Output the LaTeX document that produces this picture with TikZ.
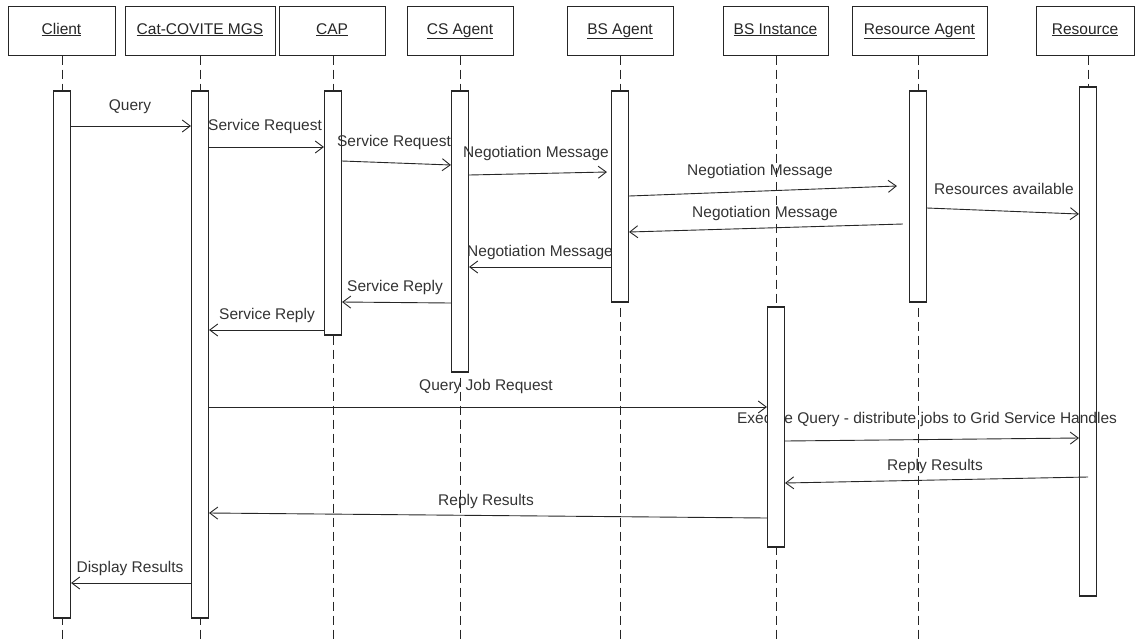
\documentclass[tikz,border=0pt]{standalone}
\usepackage{fontspec}
\setmainfont{Liberation Sans}
\usetikzlibrary{arrows.meta}
\begin{document}
\begin{tikzpicture}[x=1pt,y=-1pt,
  font=\fontsize{15.5}{18}\selectfont,
  hdr/.style={draw=black!85, line width=1pt, fill=white, rectangle, minimum height=49pt, inner sep=0pt, text=black!85, text height=11pt, text depth=4pt},
  bar/.style={draw=black!85, line width=1.1pt, fill=white, rectangle, minimum width=17pt, inner sep=0pt},
  life/.style={draw=black!85, line width=1pt, dash pattern=on 9pt off 5pt},
  msg/.style={draw=black!85, line width=0.9pt, -{Straight Barb[length=8pt,width=12pt,line width=0.9pt]}},
  lbl/.style={text=black!80, inner sep=0pt, text height=11pt, text depth=3pt}]
\useasboundingbox (0,0) rectangle (1136,641);
% header boxes
\node[hdr, minimum width=107pt] (hClient) at (61.5,30.5) {\underline{Client}};
\node[hdr, minimum width=150pt] (hCat) at (200,30.5) {\underline{Cat-COVITE MGS}};
\node[hdr, minimum width=106pt] (hCAP) at (332,30.5) {\underline{CAP}};
\node[hdr, minimum width=106pt] (hCS) at (460,30.5) {\underline{CS Agent}};
\node[hdr, minimum width=106pt] (hBSA) at (620,30.5) {\underline{BS Agent}};
\node[hdr, minimum width=105pt] (hBSI) at (775.5,30.5) {\underline{BS Instance}};
\node[hdr, minimum width=135pt] (hRA) at (919.5,30.5) {\underline{Resource Agent}};
\node[hdr, minimum width=98pt] (hRes) at (1085,30.5) {\underline{Resource}};
% lifeline ends
\coordinate (eClient) at (62,641);
\coordinate (eCat) at (200,641);
\coordinate (eCAP) at (333,641);
\coordinate (eCS) at (460,641);
\coordinate (eBSA) at (620,641);
\coordinate (eBSI) at (776,641);
\coordinate (eRA) at (918,641);
\coordinate (eRes) at (1088,596);
\draw[life] (hClient.south -| eClient) -- (eClient);
\draw[life] (hCat.south -| eCat) -- (eCat);
\draw[life] (hCAP.south -| eCAP) -- (eCAP);
\draw[life] (hCS.south -| eCS) -- (eCS);
\draw[life] (hBSA.south -| eBSA) -- (eBSA);
\draw[life] (hBSI.south -| eBSI) -- (eBSI);
\draw[life] (hRA.south -| eRA) -- (eRA);
\draw[life] (hRes.south -| eRes) -- (eRes);
% activation bars
\node[bar, minimum height=527pt] (bClient) at (62,354.5) {};
\node[bar, minimum height=527pt] (bCat) at (200,354.5) {};
\node[bar, minimum height=244pt] (bCAP) at (333,213) {};
\node[bar, minimum height=281pt] (bCS) at (460,231.5) {};
\node[bar, minimum height=211pt] (bBSA) at (620,196.5) {};
\node[bar, minimum height=211pt] (bRA) at (918,196.5) {};
\node[bar, minimum height=509pt] (bRes) at (1088,341.5) {};
% label partly hidden by the BS Instance bar
\node[lbl] (l12) at (927,419) {Execute Query - distribute jobs to Grid Service Handles};
\node[bar, minimum height=240pt] (bBSI) at (776,427) {};
% messages
\draw[msg] (bClient.east |- 0,126) -- (bCat.west |- 0,126);
\node[lbl] at (130,106) {Query};
\draw[msg] (bCat.east |- 0,147) -- (bCAP.west |- 0,147);
\node[lbl, anchor=west] at (208,126) {Service Request};
\draw[msg] (bCAP.east |- 0,161) -- (bCS.west |- 0,165);
\node[lbl] at (394,142) {Service Request};
\draw[msg] (bCS.east |- 0,175) -- ([xshift=-4pt]bBSA.west |- 0,172);
\node[lbl] at (536,153) {Negotiation Message};
\draw[msg] (bBSA.east |- 0,196) -- ([xshift=-12pt]bRA.west |- 0,186);
\node[lbl] at (760,171) {Negotiation Message};
\draw[msg] (bRA.east |- 0,208) -- (bRes.west |- 0,214);
\node[lbl] at (1004,190) {Resources available};
\draw[msg] ([xshift=-6pt]bRA.west |- 0,224) -- (bBSA.east |- 0,232);
\node[lbl] at (765,213) {Negotiation Message};
\draw[msg] (bBSA.west |- 0,267) -- (bCS.east |- 0,267);
\node[lbl] at (540,252) {Negotiation Message};
\draw[msg] (bCS.west |- 0,303) -- (bCAP.east |- 0,302);
\node[lbl] at (395,287) {Service Reply};
\draw[msg] (bCAP.west |- 0,330) -- (bCat.east |- 0,330);
\node[lbl] at (267,315) {Service Reply};
\draw[msg] (bCat.east |- 0,407) -- (bBSI.west |- 0,407);
\node[lbl] at (486,386) {Query Job Request};
\draw[msg] (bBSI.east |- 0,441) -- (bRes.west |- 0,438);
\draw[msg] (bRes.center |- 0,477) -- (bBSI.east |- 0,483);
\node[lbl] at (935,466) {Reply Results};
\draw[msg] (bBSI.west |- 0,518) -- (bCat.east |- 0,513);
\node[lbl] at (486,501) {Reply Results};
\draw[msg] (bCat.west |- 0,583) -- (bClient.east |- 0,583);
\node[lbl] at (130,568) {Display Results};
\end{tikzpicture}
\end{document}
